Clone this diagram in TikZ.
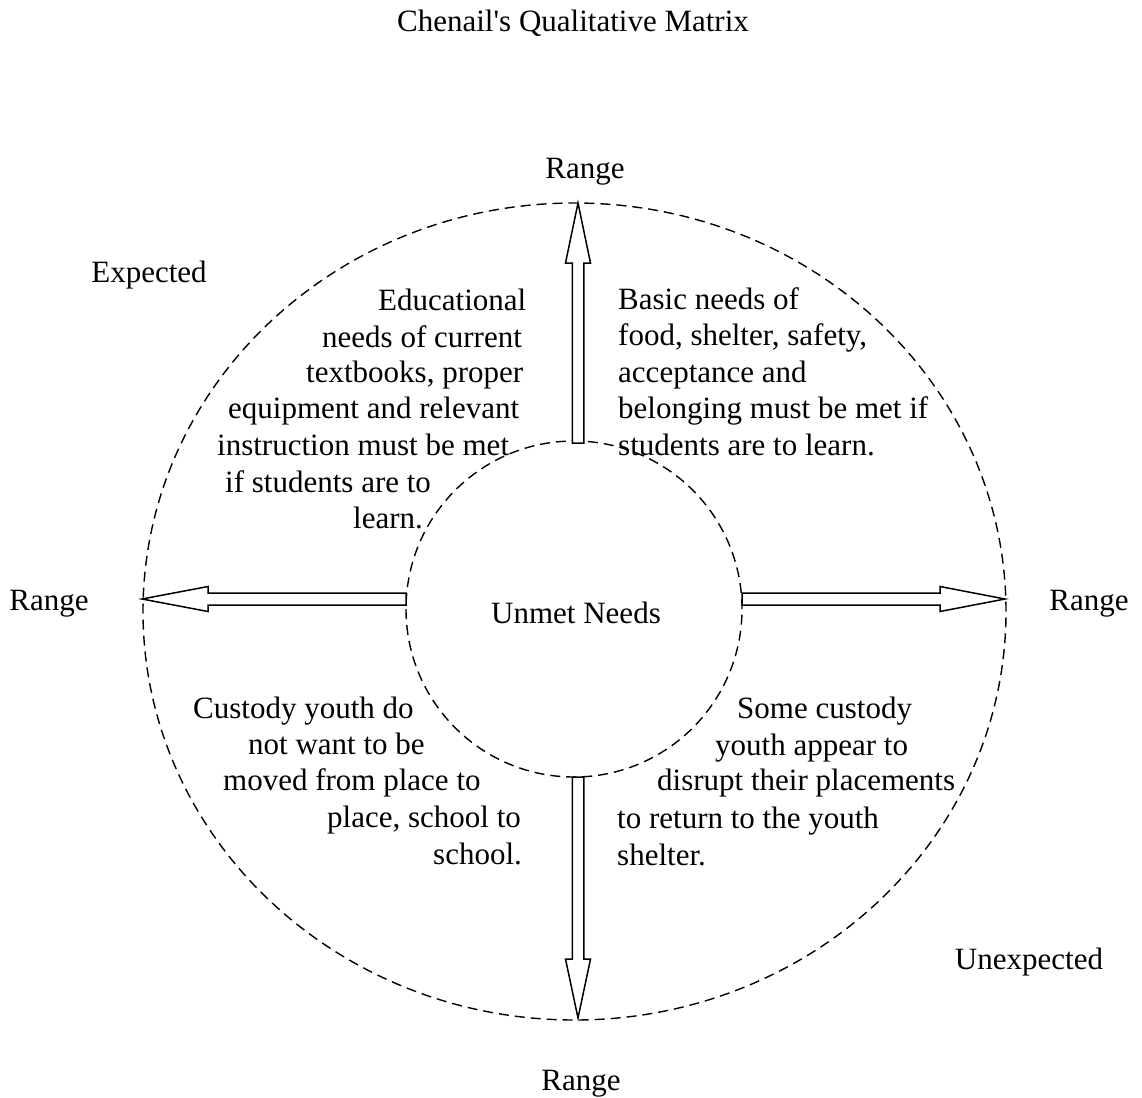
\documentclass[tikz,border=0pt]{standalone}
\usepackage{fontspec}
\setmainfont{Liberation Serif}
\usetikzlibrary{shapes.geometric,calc}
\begin{document}
\begin{tikzpicture}[x=1pt,y=-1pt,
  lbl/.style={inner sep=0pt, font=\fontsize{31}{36}\selectfont},
  linetxt/.style={lbl, anchor=base west},
  ring/.style={draw, dash pattern=on 10pt off 6pt, line width=1.4pt, inner sep=0pt, outer sep=0pt},
  blockarrow/.style={draw, line width=1.5pt, fill=white, line join=miter}]
\useasboundingbox (0,0) rectangle (1142,1097);

% dashed boundaries
\node[ring, ellipse, minimum width=863pt, minimum height=817pt] (outer) at (574.5,611.5) {};
\node[ring, circle, minimum size=336pt] (inner) at (574,609) {};

% arrow end points
\coordinate (upS) at (578,443);  \coordinate (upT) at (578,203);
\coordinate (dnS) at (578,777);  \coordinate (dnT) at (578,1018);
\coordinate (lfS) at (406,599);  \coordinate (lfT) at (142,599);
\coordinate (rtS) at (742,599);  \coordinate (rtT) at (1005,599);

% block arrows
\draw[blockarrow] ($(upS)+(-5.75,0)$) -- ($(upT)+(-5.75,60)$) -- ($(upT)+(-12.5,60)$) -- (upT)
  -- ($(upT)+(12.5,60)$) -- ($(upT)+(5.75,60)$) -- ($(upS)+(5.75,0)$) -- cycle;
\draw[blockarrow] ($(dnS)+(-5.75,0)$) -- ($(dnT)+(-5.75,-59)$) -- ($(dnT)+(-12.5,-59)$) -- (dnT)
  -- ($(dnT)+(12.5,-59)$) -- ($(dnT)+(5.75,-59)$) -- ($(dnS)+(5.75,0)$) -- cycle;
\draw[blockarrow] ($(lfS)+(0,-6)$) -- ($(lfT)+(66,-6)$) -- ($(lfT)+(66,-12.5)$) -- (lfT)
  -- ($(lfT)+(66,12.5)$) -- ($(lfT)+(66,6)$) -- ($(lfS)+(0,6)$) -- cycle;
\draw[blockarrow] ($(rtS)+(0,-6)$) -- ($(rtT)+(-65,-6)$) -- ($(rtT)+(-65,-12.5)$) -- (rtT)
  -- ($(rtT)+(-65,12.5)$) -- ($(rtT)+(-65,6)$) -- ($(rtS)+(0,6)$) -- cycle;

% title and single labels
\node[lbl, anchor=base] (title) at (573,32) {Chenail\textquotesingle s Qualitative Matrix};
\node[lbl, anchor=base] (rangeN) at (585,178) {Range};
\node[lbl, anchor=base] (rangeS) at (581,1090) {Range};
\node[lbl, anchor=base] (rangeW) at (49,610) {Range};
\node[lbl, anchor=base] (rangeE) at (1089,610) {Range};
\node[lbl, anchor=base] (expected) at (149,282) {Expected};
\node[lbl, anchor=base] (unexpected) at (1029,969) {Unexpected};
\node[lbl, anchor=base] (unmet) at (576,623) {Unmet Needs};

% upper left quadrant
\node[linetxt] (ul1) at (378,310) {Educational};
\node[linetxt] (ul2) at (322,347) {needs of current};
\node[linetxt] (ul3) at (306,382) {textbooks, proper};
\node[linetxt] (ul4) at (228,418) {equipment and relevant};
\node[linetxt] (ul5) at (217,455) {instruction must be met};
\node[linetxt] (ul6) at (225,492) {if students are to};
\node[linetxt] (ul7) at (353,528) {learn.};

% upper right quadrant
\node[linetxt] (ur1) at (618,309) {Basic needs of};
\node[linetxt] (ur2) at (618,345) {food, shelter, safety,};
\node[linetxt] (ur3) at (618,382) {acceptance and};
\node[linetxt] (ur4) at (618,418) {belonging must be met if};
\node[linetxt] (ur5) at (618,455) {students are to learn.};

% lower left quadrant
\node[linetxt] (ll1) at (193,718) {Custody youth do};
\node[linetxt] (ll2) at (248,754) {not want to be};
\node[linetxt] (ll3) at (223,790) {moved from place to};
\node[linetxt] (ll4) at (327,827) {place, school to};
\node[linetxt] (ll5) at (433,864) {school.};

% lower right quadrant
\node[linetxt] (lr1) at (737,718) {Some custody};
\node[linetxt] (lr2) at (715,755) {youth appear to};
\node[linetxt] (lr3) at (657,790) {disrupt their placements};
\node[linetxt] (lr4) at (617,828) {to return to the youth};
\node[linetxt] (lr5) at (617,865) {shelter.};
\end{tikzpicture}
\end{document}
